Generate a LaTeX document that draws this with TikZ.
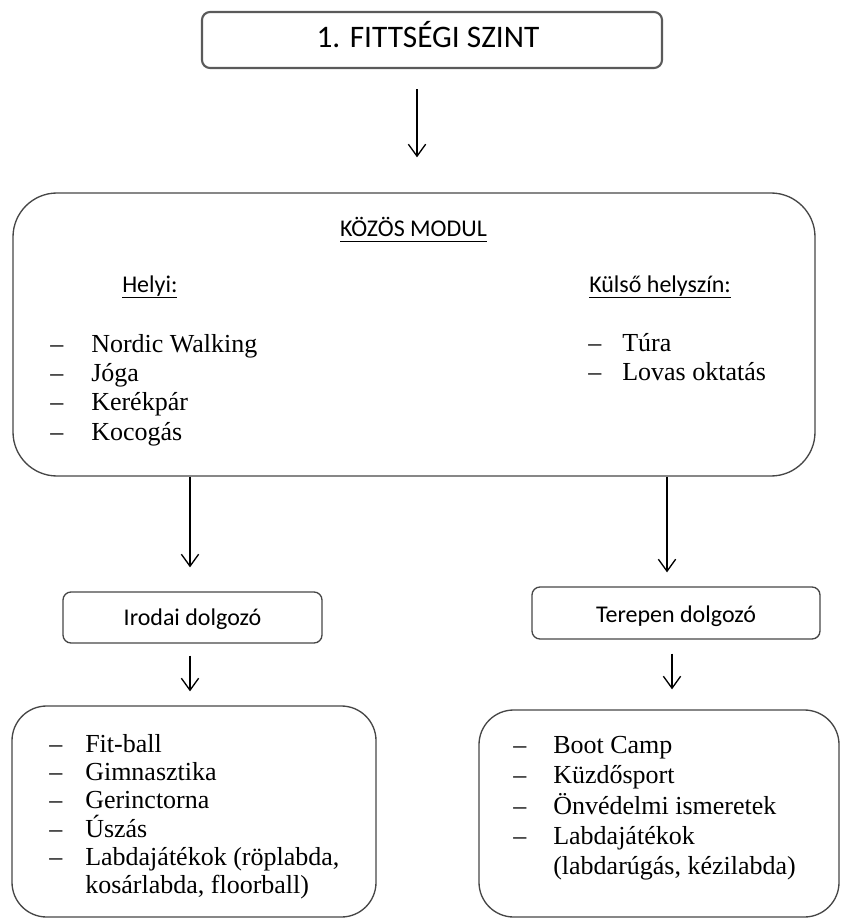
\documentclass[tikz,border=0pt]{standalone}
\usepackage{fontspec}
\setmainfont{Liberation Serif}
\newfontfamily\calfont{Carlito}
\usetikzlibrary{arrows.meta}
\definecolor{boxgray}{RGB}{70,70,70}
\definecolor{topgray}{RGB}{90,90,90}
\newcommand\myul[1]{\setbox0=\hbox{#1}\rlap{\rule[-3.8pt]{\wd0}{1pt}}\box0}
\begin{document}
\begin{tikzpicture}[x=0.75pt,y=-0.75pt,
  box/.style={draw=boxgray, line width=1pt, inner sep=0pt},
  itm/.style={font=\fontsize{19.5pt}{22pt}\selectfont, inner sep=0pt, anchor=base west},
  cal/.style={font=\calfont\fontsize{18pt}{21pt}\selectfont, inner sep=0pt},
  arr/.style={-{Straight Barb[length=9pt,width=13pt]}, line width=1pt, black}]
\useasboundingbox (0,0) rectangle (841,919);

% boxes
\node[box, draw=topgray, line width=1.6pt, minimum width=345pt, minimum height=42pt, rounded corners=6pt] (top) at (432,40) {};
\node[box, minimum width=601.5pt, minimum height=212.25pt, rounded corners=33pt] (big) at (414,334.5) {};
\node[box, minimum width=194.25pt, minimum height=38.25pt, rounded corners=6pt] (irodai) at (192.5,617.5) {};
\node[box, minimum width=216pt, minimum height=39pt, rounded corners=6pt] (terepen) at (676,613) {};
\node[box, minimum width=273pt, minimum height=158.25pt, rounded corners=26pt] (bl) at (194,811.5) {};
\node[box, minimum width=270pt, minimum height=155.25pt, rounded corners=26pt] (br) at (659,813.5) {};

% titles
\node[cal, font=\calfont\fontsize{23.5pt}{26pt}\selectfont, anchor=base] (title) at (428,48) {1. FITTSÉGI SZINT};
\node[cal, anchor=base] (kozos) at (413.5,237) {\myul{KÖZÖS MODUL}};
\node[cal, anchor=base west] (helyi) at (122,293) {\myul{Helyi:}};
\node[cal, anchor=base west] (kulso) at (589,293) {\myul{Külső helyszín:}};
\node[cal, anchor=base] (tirodai) at (192.5,625) {Irodai dolgozó};
\node[cal, anchor=base] (tterepen) at (676,622) {Terepen dolgozó};

% big box lists
\node[itm] (d1) at (50,352) {–};   \node[itm] (t1) at (91,352) {Nordic Walking};
\node[itm] (d2) at (50,381) {–};   \node[itm] (t2) at (91,381) {Jóga};
\node[itm] (d3) at (50,410.5) {–}; \node[itm] (t3) at (91,410.5) {Kerékpár};
\node[itm] (d4) at (50,440) {–};   \node[itm] (t4) at (91,440) {Kocogás};
\node[itm] (d5) at (588,351) {–};  \node[itm] (t5) at (622,351) {Túra};
\node[itm] (d6) at (588,380) {–};  \node[itm] (t6) at (622,380) {Lovas oktatás};

% bottom left list
\node[itm] (e1) at (49,752) {–}; \node[itm] (u1) at (85,752) {Fit-ball};
\node[itm] (e2) at (49,780) {–}; \node[itm] (u2) at (85,780) {Gimnasztika};
\node[itm] (e3) at (49,808) {–}; \node[itm] (u3) at (85,808) {Gerinctorna};
\node[itm] (e4) at (49,837) {–}; \node[itm] (u4) at (85,837) {Úszás};
\node[itm] (e5) at (49,865) {–}; \node[itm] (u5) at (85,865) {Labdajátékok (röplabda,};
\node[itm] (u6) at (85,893) {kosárlabda, floorball)};

% bottom right list
\node[itm] (f1) at (513,753) {–}; \node[itm] (v1) at (553,753) {Boot Camp};
\node[itm] (f2) at (513,783) {–}; \node[itm] (v2) at (553,783) {Küzdősport};
\node[itm] (f3) at (513,814) {–}; \node[itm] (v3) at (553,814) {Önvédelmi ismeretek};
\node[itm] (f4) at (513,844) {–}; \node[itm] (v4) at (553,844) {Labdajátékok};
\node[itm] (v5) at (553,874) {(labdarúgás, kézilabda)};

% arrows
\coordinate (xa) at (417,0);
\coordinate (xb) at (190,0);
\coordinate (xc) at (667,0);
\coordinate (xd) at (672,0);
\draw[arr, shorten <=15pt, shorten >=26.25pt] (top.south -| xa) -- (big.north -| xa);
\draw[arr, shorten >=18pt] (big.south -| xb) -- (irodai.north -| xb);
\draw[arr, shorten >=10.5pt] (big.south -| xc) -- (terepen.north -| xc);
\draw[arr, shorten <=9pt, shorten >=10.5pt] (irodai.south -| xb) -- (bl.north -| xb);
\draw[arr, shorten <=10.5pt, shorten >=15pt] (terepen.south -| xd) -- (br.north -| xd);
\end{tikzpicture}
\end{document}
